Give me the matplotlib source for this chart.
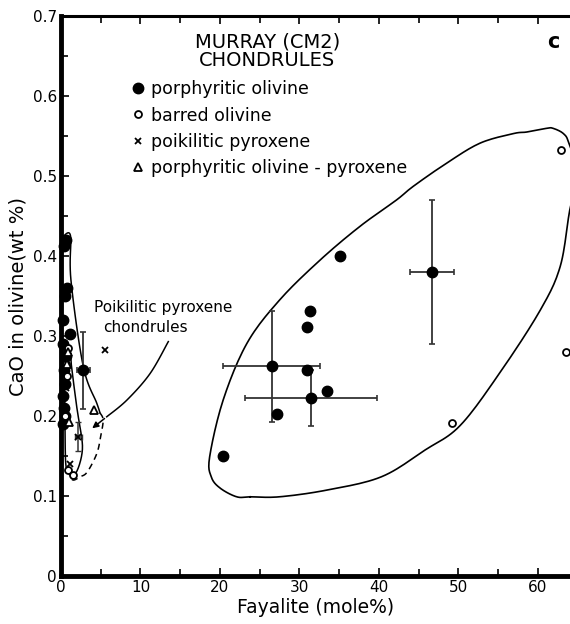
import numpy as np
import matplotlib
matplotlib.use('Agg')
import matplotlib.pyplot as plt

plt.rcParams['font.family'] = ['DejaVu Sans']

# porphyritic olivine (filled circles)
po_x = [35.1, 31.3, 31.0, 30.9, 33.5, 27.2, 20.4,
        0.6, 0.4, 0.7, 0.5, 0.3, 1.1, 0.3, 0.6, 0.4, 0.5, 0.3, 0.4, 0.5, 0.2]
po_y = [0.400, 0.331, 0.311, 0.258, 0.231, 0.203, 0.150,
        0.420, 0.412, 0.360, 0.350, 0.320, 0.302, 0.290, 0.275, 0.258, 0.240, 0.225, 0.210, 0.200, 0.190]
# porphyritic olivine with error bars (mean values)
pe_x = [46.7, 26.5, 31.4, 2.8]
pe_y = [0.380, 0.262, 0.222, 0.257]
pe_dx = [2.75, 6.1, 8.3, 0.8]
pe_dy = [0.090, 0.069, 0.035, 0.048]
# barred olivine (open circles)
bo_x = [62.9, 63.5, 49.2, 0.9, 0.6, 0.8, 0.5, 0.9, 1.5]
bo_y = [0.532, 0.280, 0.191, 0.285, 0.265, 0.250, 0.200, 0.1325, 0.126]
# poikilitic pyroxene (x)
pp_x = [5.5, 0.9, 0.6, 1.1]
pp_y = [0.282, 0.275, 0.235, 0.140]
pp_ex, pp_ey, pp_dx, pp_dy = [2.2], [0.174], [0.5], [0.018]
# porphyritic olivine-pyroxene (triangles)
opx_x = [4.2, 1.05, 0.7, 0.9]
opx_y = [0.2075, 0.193, 0.265, 0.280]

# outlines of the fields
big_x = [23.8, 27.5, 33.5, 40.3, 45.8, 50.2, 55.2, 60.3, 62.8, 64.0, 65.0, 63.9, 63.2, 61.9,
         61.1, 58.6, 56.9, 52.7, 48.5, 44.3, 42.2, 37.6, 32.6, 27.5, 23.4, 20.4, 18.7, 18.9, 20.0, 22.1]
big_y = [0.099, 0.099, 0.1075, 0.124, 0.1575, 0.188, 0.254, 0.3325, 0.387, 0.4575, 0.50, 0.541, 0.553, 0.5596,
         0.5596, 0.555, 0.553, 0.541, 0.516, 0.487, 0.47, 0.437, 0.395, 0.345, 0.291, 0.22, 0.149, 0.124, 0.11, 0.099]
outer_x = [0.3, 1.2, 1.25, 2.8, 4.5, 4.9]
outer_y = [0.425, 0.425, 0.37, 0.262, 0.216, 0.204]
dash_x = [4.9, 5.3, 5.0, 4.5, 3.3, 2.4, 1.5, 1.0]
dash_y = [0.204, 0.195, 0.175, 0.153, 0.130, 0.124, 0.120, 0.128]
inner_x = [0.4, 1.1, 1.3, 2.0, 2.5, 2.7, 2.4, 1.8, 1.1, 0.6, 0.5, 0.4]
inner_y = [0.285, 0.285, 0.264, 0.21, 0.18, 0.16, 0.142, 0.128, 0.128, 0.14, 0.2, 0.285]
arrow_x = [13.5, 11.2, 8.3, 5.75]
arrow_y = [0.293, 0.253, 0.22, 0.199]


def smooth(x, y, closed=False, n=12):
    p = np.column_stack([x, y]).astype(float)
    if closed:
        p = np.vstack([p[-1], p, p[0], p[1]])
    else:
        p = np.vstack([p[0], p, p[-1]])
    out = []
    t = np.linspace(0, 1, n, endpoint=False)[:, None]
    for i in range(1, len(p) - 2):
        p0, p1, p2, p3 = p[i - 1], p[i], p[i + 1], p[i + 2]
        seg = 0.5 * ((2 * p1) + (-p0 + p2) * t + (2 * p0 - 5 * p1 + 4 * p2 - p3) * t ** 2
                     + (-p0 + 3 * p1 - 3 * p2 + p3) * t ** 3)
        out.append(seg)
    out.append(p[-2][None, :])
    out = np.vstack(out)
    return out[:, 0], out[:, 1]


fig = plt.figure(figsize=(5.7, 6.24), dpi=100, facecolor='white')
ax = fig.add_axes([61 / 570, 48 / 624, 509 / 570, 560 / 624])

lc = 'black'
sx, sy = smooth(big_x, big_y, closed=True)
ax.plot(sx, sy, color=lc, lw=1.2)
sx, sy = smooth(outer_x, outer_y)
ax.plot(sx, sy, color=lc, lw=1.1)
sx, sy = smooth(dash_x, dash_y)
ax.plot(sx, sy, color=lc, lw=1.1, ls=(0, (4, 3)))
sx, sy = smooth(inner_x, inner_y)
ax.plot(sx, sy, color=lc, lw=1.1)
sx, sy = smooth(arrow_x, arrow_y)
ax.plot(sx, sy, color=lc, lw=1.1)
ax.annotate('', xy=(3.65, 0.1825), xytext=(arrow_x[-1], arrow_y[-1]),
            arrowprops=dict(arrowstyle='-|>', color=lc, lw=1.1, mutation_scale=9))

ax.errorbar(pe_x, pe_y, xerr=pe_dx, yerr=pe_dy, fmt='none', ecolor='#333333',
            elinewidth=1.3, capsize=2.5, capthick=1.2, zorder=3)
ax.errorbar(pp_ex, pp_ey, xerr=pp_dx, yerr=pp_dy, fmt='none', ecolor='#333333',
            elinewidth=1.1, capsize=2, capthick=1.0, zorder=3)

h1, = ax.plot(po_x + pe_x, po_y + pe_y, 'o', color='black', ms=7.5, ls='none', zorder=4, clip_on=False)
h2, = ax.plot(bo_x, bo_y, 'o', mfc='white', mec='black', mew=1.3, ms=5, ls='none', zorder=4, clip_on=False)
h3, = ax.plot(pp_x + pp_ex, pp_y + pp_ey, 'x', color='black', mew=1.3, ms=4.5, ls='none', zorder=4, clip_on=False)
h4, = ax.plot(opx_x, opx_y, '^', mfc='white', mec='black', mew=1.3, ms=6, ls='none', zorder=4, clip_on=False)

ax.legend([h1, h2, h3, h4],
          ['porphyritic olivine', 'barred olivine', 'poikilitic pyroxene',
           'porphyritic olivine - pyroxene'],
          loc='upper left', bbox_to_anchor=(0.135, 0.885), frameon=False,
          fontsize=12.5, handlelength=0.9, handletextpad=0.35, labelspacing=0.47,
          borderpad=0, borderaxespad=0)

ax.text(0.405, 0.937, 'MURRAY (CM2)\nCHONDRULES', transform=ax.transAxes,
        ha='center', va='center', fontsize=14, linespacing=0.95)
ax.text(0.967, 0.954, 'c', transform=ax.transAxes, ha='center', va='center',
        fontsize=15, fontweight='bold')
ax.text(4.15, 0.336, 'Poikilitic pyroxene', fontsize=11, va='center')
ax.text(5.3, 0.31, 'chondrules', fontsize=11, va='center')

ax.set_xlim(0, 64.03)
ax.set_ylim(0, 0.7)
ax.set_xticks(np.arange(0, 61, 10))
ax.set_xticks(np.arange(0, 65, 5), minor=True)
ax.set_yticks(np.arange(0, 0.71, 0.1))
ax.set_yticks(np.arange(0, 0.71, 0.05), minor=True)
ax.set_yticklabels(['0', '0.1', '0.2', '0.3', '0.4', '0.5', '0.6', '0.7'])
ax.tick_params(which='both', direction='in', top=True, right=False, width=1.2)
ax.tick_params(which='major', length=6, labelsize=11, pad=3)
ax.tick_params(which='minor', length=5)

ax.spines['right'].set_visible(False)
ax.spines['left'].set_linewidth(3.5)
ax.spines['bottom'].set_linewidth(3.5)
ax.spines['top'].set_linewidth(2.2)

ax.set_xlabel('Fayalite (mole%)', fontsize=13.5, labelpad=2)
ax.set_ylabel('CaO in olivine(wt %)', fontsize=14, labelpad=4)

fig.savefig('out.png', dpi=100, facecolor='white')
